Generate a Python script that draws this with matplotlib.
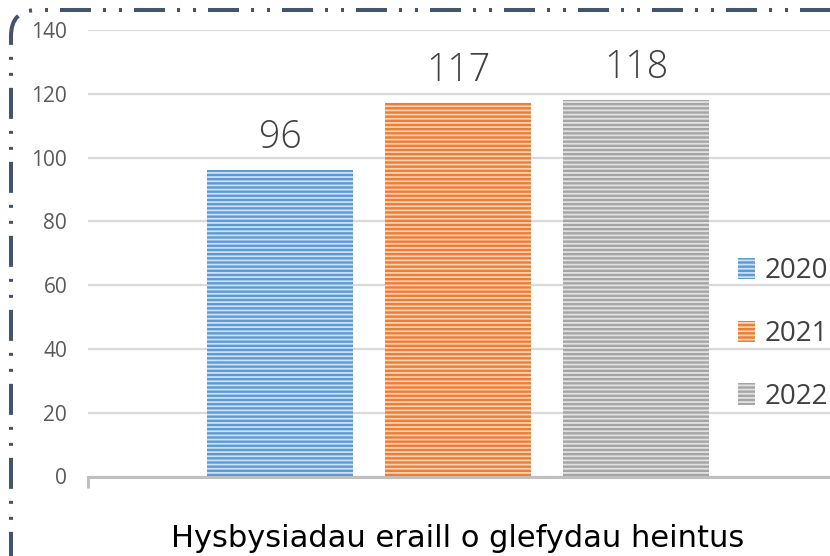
import matplotlib
matplotlib.use("Agg")
import matplotlib.pyplot as plt
from matplotlib.patches import Patch, PathPatch
from matplotlib.path import Path
from matplotlib.transforms import IdentityTransform

# data
category = "Hysbysiadau eraill o glefydau heintus"
years = ["2020", "2021", "2022"]
values = [96, 117, 118]
colors = ["#5B9BD5", "#ED7D31", "#A5A5A5"]
stripe_colors = ["#cfe0f3", "#f9d2b8", "#e2e2e2"]
yticks = [0, 20, 40, 60, 80, 100, 120, 140]

plt.rcParams["font.family"] = ["Open Sans", "DejaVu Sans"]
plt.rcParams["hatch.linewidth"] = 1.3

W, H = 830, 556
fig = plt.figure(figsize=(W / 100, H / 100), dpi=100)
ax = fig.add_axes([88 / W, (H - 476.5) / H, (W - 88) / W, (476.5 - 30) / H])

width = 0.82
xpos = [-1, 0, 1]
for x, v, c, sc in zip(xpos, values, colors, stripe_colors):
    ax.bar(x, v, width=width, color=c, edgecolor=sc, hatch="----", linewidth=0, zorder=2)
    ax.annotate(str(v), (x, v), xytext=(0, 16), textcoords="offset points",
                ha="center", va="baseline", fontsize=27, color="#404040",
                family=["Open Sans"], fontweight="light")

xl = (88 - 458) / 178
xr = (830 - 458) / 178
ax.set_xlim(xl, xr)
ax.set_ylim(0, 140)
ax.set_yticks(yticks)
ax.yaxis.grid(True, color="#d9d9d9", linewidth=1.6, zorder=0)
ax.set_axisbelow(True)
ax.tick_params(axis="y", length=0, pad=15, labelsize=15, labelcolor="#595959")

# category axis: boundary tick at left, label at group center
ax.set_xticks([xl])
ax.set_xticklabels([""])
ax.tick_params(axis="x", which="major", length=8, width=2.2, color="#bfbfbf", direction="out")
ax.set_xticks([0], minor=True)
ax.set_xticklabels([category], minor=True, family=["DejaVu Sans"])
ax.tick_params(axis="x", which="minor", length=0, pad=34, labelsize=22, labelcolor="#000000")

for s in ["top", "right", "left"]:
    ax.spines[s].set_visible(False)
ax.spines["bottom"].set_color("#bfbfbf")
ax.spines["bottom"].set_linewidth(2.2)

# legend
handles = [Patch(facecolor=c, edgecolor=sc, hatch="----", linewidth=0)
           for c, sc in zip(colors, stripe_colors)]
leg = fig.legend(handles, years, loc="center left", bbox_to_anchor=(727 / W, 1 - 334 / H),
                 frameon=False, fontsize=20, labelcolor="#404040", handlelength=0.6,
                 handleheight=0.8, handletextpad=0.35, labelspacing=1.25, borderaxespad=0)

# dash-dot-dot border around top/left with rounded corner
r = 26
x0, y0 = 11, H - 10
verts = [(W + 20, y0), (x0 + r, y0), (x0, y0), (x0, y0 - r), (x0, -20)]
codes = [Path.MOVETO, Path.LINETO, Path.CURVE3, Path.CURVE3, Path.LINETO]
lw = 2.9
u = 0.72 / lw
border = PathPatch(Path(verts, codes), fill=False, edgecolor="#44546A", linewidth=lw,
                   linestyle=(0, (31 * u, 12 * u, 3 * u, 13 * u, 3 * u, 12 * u)),
                   transform=IdentityTransform(), capstyle="butt")
fig.add_artist(border)

fig.savefig("out.png", dpi=100)
